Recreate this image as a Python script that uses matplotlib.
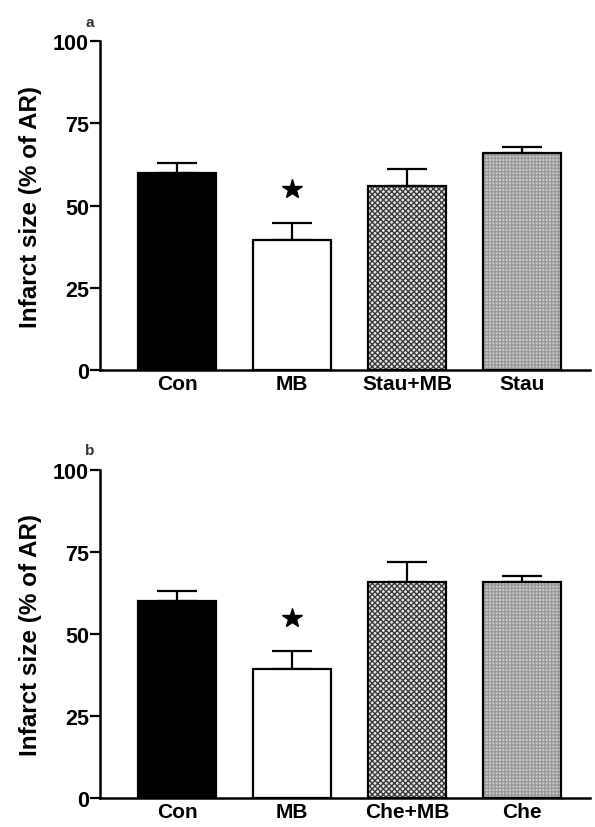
import matplotlib
matplotlib.use('Agg')
from matplotlib import pyplot as plt

labels_a = ['Con', 'MB', 'Stau+MB', 'Stau']
means_a = [60, 39.5, 56, 66]
errs_a = [3, 5.2, 5, 1.8]

labels_b = ['Con', 'MB', 'Che+MB', 'Che']
means_b = [60, 39.5, 66, 66]
errs_b = [3, 5.2, 6, 1.6]

star_y = 55  # significance marker over MB

plt.rcParams['font.family'] = ['Liberation Sans', 'DejaVu Sans']
plt.rcParams['font.weight'] = 'bold'
plt.rcParams['hatch.linewidth'] = 1.0

faces = ['black', 'white', '#e8e8e8', '#d0d0d0']
hatches = [None, None, 'xxxxxx', '+++++']
hatch_cols = [None, None, '#3a3a3a', '#999999']


def panel(ax, labels, means, errs, tag):
    x = range(len(labels))
    # fill and hatch first, black outline on top
    for i in x:
        if hatches[i]:
            ax.bar(i, means[i], width=0.68, color=faces[i], hatch=hatches[i],
                   edgecolor=hatch_cols[i], linewidth=0, zorder=2)
        else:
            ax.bar(i, means[i], width=0.68, color=faces[i], linewidth=0,
                   zorder=2)
    ax.bar(x, means, width=0.68, fill=False, edgecolor='black',
           linewidth=1.6, zorder=3)
    ax.errorbar(x, means, yerr=[[0] * len(errs), errs], fmt='none',
                ecolor='black', elinewidth=1.6, capsize=14.5, capthick=1.6,
                zorder=1)
    ax.plot(1, star_y, marker='*', color='black', markersize=15,
            linestyle='none')
    ax.set_xlim(-0.67, 3.59)
    ax.set_ylim(0, 100)
    ax.set_yticks([0, 25, 50, 75, 100])
    ax.set_xticks(list(x))
    ax.set_xticklabels(labels, fontsize=15, fontweight='bold')
    ax.tick_params(axis='y', length=7, width=1.6, labelsize=15.5, pad=1)
    ax.tick_params(axis='x', length=0, pad=3)
    for lab in ax.get_yticklabels():
        lab.set_fontweight('bold')
    ax.spines['top'].set_visible(False)
    ax.spines['right'].set_visible(False)
    ax.spines['left'].set_linewidth(1.8)
    ax.spines['bottom'].set_linewidth(1.8)
    ax.set_ylabel('Infarct size (% of AR)', fontsize=17.5,
                  fontweight='bold', labelpad=8)
    ax.text(-0.72, 106, tag, fontsize=11, fontweight='bold', color='#333333',
            ha='right', va='center')


fig = plt.figure(figsize=(5.95, 8.28), dpi=100)
ax_a = fig.add_axes([0.168, 0.552, 0.824, 0.397])
ax_b = fig.add_axes([0.168, 0.035, 0.824, 0.396])
panel(ax_a, labels_a, means_a, errs_a, 'a')
panel(ax_b, labels_b, means_b, errs_b, 'b')

fig.savefig('out.png', dpi=100)
